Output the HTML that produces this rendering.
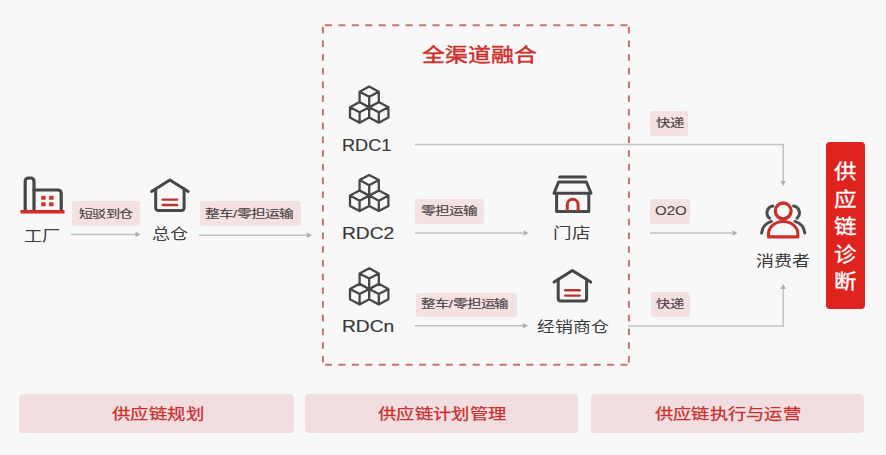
<!DOCTYPE html>
<html lang="zh-CN">
<head>
<meta charset="utf-8">
<style>
html,body{margin:0;padding:0;}
body{width:886px;height:455px;background:#f8f8f8;position:relative;overflow:hidden;font-family:"Liberation Sans",sans-serif;}
.t{position:absolute;white-space:nowrap;line-height:1;transform-origin:0 0;}
.b{position:absolute;}
svg{position:absolute;left:0;top:0;}
</style>
</head>
<body>
<div class="b" style="left:72px;top:201px;width:68.0px;height:24.6px;background:#f4e1e1;border-radius:3px;"></div>
<div class="b" style="left:199.5px;top:201.4px;width:101.3px;height:24.6px;background:#f4e1e1;border-radius:3px;"></div>
<div class="b" style="left:415.3px;top:199.3px;width:68.9px;height:24.8px;background:#f4e1e1;border-radius:3px;"></div>
<div class="b" style="left:415.6px;top:292.5px;width:101.2px;height:24.6px;background:#f4e1e1;border-radius:3px;"></div>
<div class="b" style="left:650px;top:111.2px;width:38.4px;height:24.6px;background:#f4e1e1;border-radius:3px;"></div>
<div class="b" style="left:649.6px;top:199.1px;width:40.2px;height:24.6px;background:#f4e1e1;border-radius:3px;"></div>
<div class="b" style="left:650.6px;top:292px;width:39.6px;height:24.6px;background:#f4e1e1;border-radius:3px;"></div>
<div class="b" style="left:826.3px;top:141.5px;width:38.7px;height:167.2px;background:#df231f;border-radius:4px;"></div>
<div class="b" style="left:19.2px;top:394px;width:274.4px;height:38.5px;background:#f2dee1;border-radius:4px;"></div>
<div class="b" style="left:304.8px;top:394px;width:273.5px;height:38.5px;background:#f2dee1;border-radius:4px;"></div>
<div class="b" style="left:590.9px;top:394px;width:273.3px;height:38.5px;background:#f2dee1;border-radius:4px;"></div>
<svg width="886" height="455" viewBox="0 0 886 455">
<defs>
<path id="cube" d="M0,0 L9.6,5.1 V15.5 L0,20.6 L-9.6,15.5 V5.1 Z M-9.6,5.1 L0,10.2 L9.6,5.1 M0,10.2 V20.6"/>
<g id="cubes"><use href="#cube" x="-9.6" y="15.5"/><use href="#cube" x="9.6" y="15.5"/><use href="#cube" x="0" y="0"/></g>
</defs>
<g fill="#c96e64"><rect x="325.00" y="24.3" width="7" height="1.9"/><rect x="325.00" y="363.8" width="7" height="1.9"/><rect x="338.43" y="24.3" width="7" height="1.9"/><rect x="338.43" y="363.8" width="7" height="1.9"/><rect x="351.86" y="24.3" width="7" height="1.9"/><rect x="351.86" y="363.8" width="7" height="1.9"/><rect x="365.29" y="24.3" width="7" height="1.9"/><rect x="365.29" y="363.8" width="7" height="1.9"/><rect x="378.72" y="24.3" width="7" height="1.9"/><rect x="378.72" y="363.8" width="7" height="1.9"/><rect x="392.15" y="24.3" width="7" height="1.9"/><rect x="392.15" y="363.8" width="7" height="1.9"/><rect x="405.58" y="24.3" width="7" height="1.9"/><rect x="405.58" y="363.8" width="7" height="1.9"/><rect x="419.01" y="24.3" width="7" height="1.9"/><rect x="419.01" y="363.8" width="7" height="1.9"/><rect x="432.44" y="24.3" width="7" height="1.9"/><rect x="432.44" y="363.8" width="7" height="1.9"/><rect x="445.87" y="24.3" width="7" height="1.9"/><rect x="445.87" y="363.8" width="7" height="1.9"/><rect x="459.30" y="24.3" width="7" height="1.9"/><rect x="459.30" y="363.8" width="7" height="1.9"/><rect x="472.73" y="24.3" width="7" height="1.9"/><rect x="472.73" y="363.8" width="7" height="1.9"/><rect x="486.16" y="24.3" width="7" height="1.9"/><rect x="486.16" y="363.8" width="7" height="1.9"/><rect x="499.59" y="24.3" width="7" height="1.9"/><rect x="499.59" y="363.8" width="7" height="1.9"/><rect x="513.02" y="24.3" width="7" height="1.9"/><rect x="513.02" y="363.8" width="7" height="1.9"/><rect x="526.45" y="24.3" width="7" height="1.9"/><rect x="526.45" y="363.8" width="7" height="1.9"/><rect x="539.88" y="24.3" width="7" height="1.9"/><rect x="539.88" y="363.8" width="7" height="1.9"/><rect x="553.31" y="24.3" width="7" height="1.9"/><rect x="553.31" y="363.8" width="7" height="1.9"/><rect x="566.74" y="24.3" width="7" height="1.9"/><rect x="566.74" y="363.8" width="7" height="1.9"/><rect x="580.17" y="24.3" width="7" height="1.9"/><rect x="580.17" y="363.8" width="7" height="1.9"/><rect x="593.60" y="24.3" width="7" height="1.9"/><rect x="593.60" y="363.8" width="7" height="1.9"/><rect x="607.03" y="24.3" width="7" height="1.9"/><rect x="607.03" y="363.8" width="7" height="1.9"/><rect x="620.46" y="24.3" width="7" height="1.9"/><rect x="620.46" y="363.8" width="7" height="1.9"/><rect x="321.95" y="26.70" width="1.9" height="6.6"/><rect x="627.95" y="26.70" width="1.9" height="6.6"/><rect x="321.95" y="40.42" width="1.9" height="6.6"/><rect x="627.95" y="40.42" width="1.9" height="6.6"/><rect x="321.95" y="54.14" width="1.9" height="6.6"/><rect x="627.95" y="54.14" width="1.9" height="6.6"/><rect x="321.95" y="67.86" width="1.9" height="6.6"/><rect x="627.95" y="67.86" width="1.9" height="6.6"/><rect x="321.95" y="81.58" width="1.9" height="6.6"/><rect x="627.95" y="81.58" width="1.9" height="6.6"/><rect x="321.95" y="95.30" width="1.9" height="6.6"/><rect x="627.95" y="95.30" width="1.9" height="6.6"/><rect x="321.95" y="109.02" width="1.9" height="6.6"/><rect x="627.95" y="109.02" width="1.9" height="6.6"/><rect x="321.95" y="122.74" width="1.9" height="6.6"/><rect x="627.95" y="122.74" width="1.9" height="6.6"/><rect x="321.95" y="136.46" width="1.9" height="6.6"/><rect x="627.95" y="136.46" width="1.9" height="6.6"/><rect x="321.95" y="150.18" width="1.9" height="6.6"/><rect x="627.95" y="150.18" width="1.9" height="6.6"/><rect x="321.95" y="163.90" width="1.9" height="6.6"/><rect x="627.95" y="163.90" width="1.9" height="6.6"/><rect x="321.95" y="177.62" width="1.9" height="6.6"/><rect x="627.95" y="177.62" width="1.9" height="6.6"/><rect x="321.95" y="191.34" width="1.9" height="6.6"/><rect x="627.95" y="191.34" width="1.9" height="6.6"/><rect x="321.95" y="205.06" width="1.9" height="6.6"/><rect x="627.95" y="205.06" width="1.9" height="6.6"/><rect x="321.95" y="218.78" width="1.9" height="6.6"/><rect x="627.95" y="218.78" width="1.9" height="6.6"/><rect x="321.95" y="232.50" width="1.9" height="6.6"/><rect x="627.95" y="232.50" width="1.9" height="6.6"/><rect x="321.95" y="246.22" width="1.9" height="6.6"/><rect x="627.95" y="246.22" width="1.9" height="6.6"/><rect x="321.95" y="259.94" width="1.9" height="6.6"/><rect x="627.95" y="259.94" width="1.9" height="6.6"/><rect x="321.95" y="273.66" width="1.9" height="6.6"/><rect x="627.95" y="273.66" width="1.9" height="6.6"/><rect x="321.95" y="287.38" width="1.9" height="6.6"/><rect x="627.95" y="287.38" width="1.9" height="6.6"/><rect x="321.95" y="301.10" width="1.9" height="6.6"/><rect x="627.95" y="301.10" width="1.9" height="6.6"/><rect x="321.95" y="314.82" width="1.9" height="6.6"/><rect x="627.95" y="314.82" width="1.9" height="6.6"/><rect x="321.95" y="328.54" width="1.9" height="6.6"/><rect x="627.95" y="328.54" width="1.9" height="6.6"/><rect x="321.95" y="342.26" width="1.9" height="6.6"/><rect x="627.95" y="342.26" width="1.9" height="6.6"/><rect x="321.95" y="355.98" width="1.9" height="6.6"/><rect x="627.95" y="355.98" width="1.9" height="6.6"/></g>
<g stroke="#c2c2c2" stroke-width="1.5" fill="none">
<line x1="71" y1="234.4" x2="136" y2="234.4"/>
<line x1="199" y1="235.3" x2="307" y2="235.3"/>
<line x1="415" y1="233" x2="523" y2="233"/>
<line x1="415" y1="325.8" x2="523" y2="325.8"/>
<polyline points="415,144.4 783.2,144.4 783.2,181"/>
<line x1="650" y1="233" x2="732" y2="233"/>
<polyline points="628,326 783.2,326 783.2,289"/>
</g>
<g fill="#b0b0b0">
<polygon points="140.5,234.4 135.5,231.6 135.5,237.20000000000002"/><polygon points="312,235.3 307,232.5 307,238.10000000000002"/><polygon points="528.5,233 523.5,230.2 523.5,235.8"/><polygon points="528,325.8 523,323.0 523,328.6"/><polygon points="737.5,233 732.5,230.2 732.5,235.8"/>
<polygon points="783.2,186 780.4000000000001,181 786.0,181"/><polygon points="783.2,284 780.4000000000001,289 786.0,289"/>
</g>
<g fill="none" stroke="#474747" stroke-width="3.2" stroke-linejoin="round" stroke-linecap="round">
<path d="M25.2,210 V181.2 a3.2,3.2 0 0 1 3.2,-3.2 h2.4 a3.2,3.2 0 0 1 3.2,3.2 V210"/>
<path d="M34,190 H58 a3.2,3.2 0 0 1 3.2,3.2 V210"/>
</g>
<rect x="20.5" y="210" width="44" height="3.5" fill="#d42a27"/>
<g fill="#d0302f">
<rect x="41.2" y="195.8" width="4.5" height="4" rx="0.6"/><rect x="49.1" y="195.8" width="4.5" height="4" rx="0.6"/>
<rect x="41.2" y="202.3" width="4.5" height="4" rx="0.6"/><rect x="49.1" y="202.3" width="4.5" height="4" rx="0.6"/>
</g>
<g fill="none" stroke="#474747" stroke-width="3" stroke-linejoin="round" stroke-linecap="round">
<path d="M151.6,191.5 L169.9,180 L188.2,191.5"/><path d="M155.7,188.9 V208.0 a2.5,2.5 0 0 0 2.5,2.5 H181.6 a2.5,2.5 0 0 0 2.5,-2.5 V188.9"/><path d="M554.1,282.1 L572.4,270.6 L590.7,282.1"/><path d="M558.2,279.5 V298.6 a2.5,2.5 0 0 0 2.5,2.5 H584.1 a2.5,2.5 0 0 0 2.5,-2.5 V279.5"/>
</g>
<g fill="none" stroke="#b8352c" stroke-width="2.4" stroke-linecap="round">
<line x1="162.7" y1="199.6" x2="177.1" y2="199.6"/><line x1="162.7" y1="205.0" x2="177.1" y2="205.0"/><line x1="565.2" y1="290.2" x2="579.6" y2="290.2"/><line x1="565.2" y1="295.6" x2="579.6" y2="295.6"/>
</g>
<g fill="none" stroke="#474747" stroke-width="3" stroke-linejoin="round" stroke-linecap="round">
<line x1="559.6" y1="177" x2="585.4" y2="177"/>
<path d="M558.6,182 H586.4 L591,193.2 H554 Z"/>
<path d="M556.6,193.2 V211.5 H588.8 V193.2"/>
</g>
<path d="M567.3,211 V204.6 a5.4,5.4 0 0 1 10.8,0 V211" fill="none" stroke="#c8302a" stroke-width="3"/>
<g fill="#f8f8f8" stroke="#474747" stroke-width="2.3" stroke-linejoin="round">
<use href="#cubes" x="369.2" y="86.6"/>
<use href="#cubes" x="369.2" y="175"/>
<use href="#cubes" x="369.2" y="268.3"/>
</g>
<g fill="none" stroke-width="3" stroke-linecap="round">
<path d="M772.8,206 A7,7 0 0 0 769.4,218.2 M771.4,221.4 A14,14 0 0 0 761.6,233" stroke="#4a4d52"/>
<path d="M793.6,206 A7,7 0 0 1 797,218.2 M795,221.4 A14,14 0 0 1 804.8,233" stroke="#4a4d52"/>
<circle cx="783.2" cy="210.9" r="7.9" stroke="#c8302a" stroke-width="3.3"/>
<path d="M768.5,236.9 V234 A14.7,12.5 0 0 1 797.9,234 V236.9 Z" stroke="#c8302a" stroke-width="3.1" stroke-linejoin="round"/>
</g>
</svg>
<div class="t" style="left:24.00px;top:227.65px;font-size:15px;color:#3c3c3c;transform:scaleX(1.216);">工厂</div>
<div class="t" style="left:151.80px;top:226.45px;font-size:15px;color:#3c3c3c;transform:scaleX(1.201);">总仓</div>
<div class="t" style="left:79.20px;top:208.75px;font-size:11.5px;color:#4a4444;transform:scaleX(1.225);-webkit-text-stroke:0.15px #4a4444;">短驳到仓</div>
<div class="t" style="left:205.40px;top:208.65px;font-size:11.5px;color:#4a4444;transform:scaleX(1.278);-webkit-text-stroke:0.15px #4a4444;">整车/零担运输</div>
<div class="t" style="left:422.00px;top:45.55px;font-size:19px;color:#d0302b;transform:scaleX(1.204);-webkit-text-stroke:0.45px #c9302c;">全渠道融合</div>
<div class="t" style="left:341.80px;top:136.95px;font-size:17px;color:#3a3a3a;transform:scaleX(1.064);-webkit-text-stroke:0.2px #3a3a3a;">RDC1</div>
<div class="t" style="left:341.90px;top:225.20px;font-size:17px;color:#3a3a3a;transform:scaleX(1.130);-webkit-text-stroke:0.2px #3a3a3a;">RDC2</div>
<div class="t" style="left:341.90px;top:318.20px;font-size:17px;color:#3a3a3a;transform:scaleX(1.130);-webkit-text-stroke:0.2px #3a3a3a;">RDCn</div>
<div class="t" style="left:421.40px;top:206.10px;font-size:11.5px;color:#4a4444;transform:scaleX(1.269);-webkit-text-stroke:0.15px #4a4444;">零担运输</div>
<div class="t" style="left:421.40px;top:299.25px;font-size:11.5px;color:#4a4444;transform:scaleX(1.262);-webkit-text-stroke:0.15px #4a4444;">整车/零担运输</div>
<div class="t" style="left:553.10px;top:225.25px;font-size:15px;color:#3c3c3c;transform:scaleX(1.237);">门店</div>
<div class="t" style="left:536.60px;top:318.65px;font-size:15px;color:#3c3c3c;transform:scaleX(1.191);">经销商仓</div>
<div class="t" style="left:656.00px;top:118.15px;font-size:11.5px;color:#4a4444;transform:scaleX(1.246);-webkit-text-stroke:0.15px #4a4444;">快递</div>
<div class="t" style="left:654.60px;top:204.15px;font-size:13px;color:#4a4444;transform:scaleX(1.152);-webkit-text-stroke:0.15px #4a4444;">O2O</div>
<div class="t" style="left:656.00px;top:298.90px;font-size:11.5px;color:#4a4444;transform:scaleX(1.238);-webkit-text-stroke:0.15px #4a4444;">快递</div>
<div class="t" style="left:755.90px;top:253.45px;font-size:15px;color:#3c3c3c;transform:scaleX(1.203);">消费者</div>
<div class="t" style="left:111.60px;top:405.80px;font-size:15px;color:#c9302c;transform:scaleX(1.225);-webkit-text-stroke:0.25px #c9302c;">供应链规划</div>
<div class="t" style="left:378.20px;top:406.10px;font-size:15px;color:#c9302c;transform:scaleX(1.222);-webkit-text-stroke:0.25px #c9302c;">供应链计划管理</div>
<div class="t" style="left:655.20px;top:405.95px;font-size:15px;color:#c9302c;transform:scaleX(1.215);-webkit-text-stroke:0.25px #c9302c;">供应链执行与运营</div>
<div class="t" style="left:833.80px;top:162.15px;font-size:20px;color:#fff;transform:scaleX(1.129);-webkit-text-stroke:0.3px #fff;">供</div>
<div class="t" style="left:833.80px;top:189.70px;font-size:20px;color:#fff;transform:scaleX(1.129);-webkit-text-stroke:0.3px #fff;">应</div>
<div class="t" style="left:833.80px;top:217.25px;font-size:20px;color:#fff;transform:scaleX(1.129);-webkit-text-stroke:0.3px #fff;">链</div>
<div class="t" style="left:833.80px;top:244.80px;font-size:20px;color:#fff;transform:scaleX(1.129);-webkit-text-stroke:0.3px #fff;">诊</div>
<div class="t" style="left:833.80px;top:272.35px;font-size:20px;color:#fff;transform:scaleX(1.129);-webkit-text-stroke:0.3px #fff;">断</div>
</body>
</html>
